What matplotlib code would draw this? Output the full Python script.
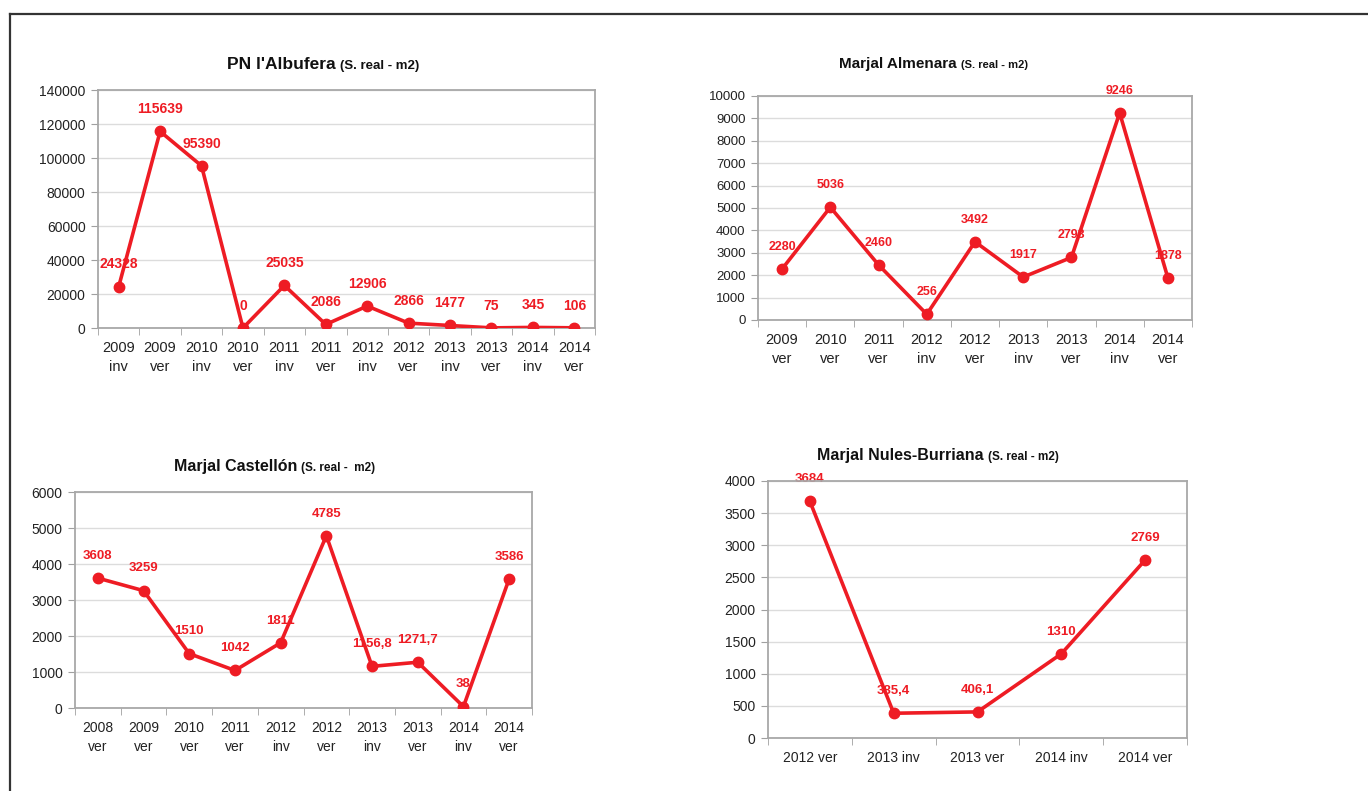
import numpy as np
import matplotlib
matplotlib.use('Agg')
import matplotlib.pyplot as plt
from matplotlib.lines import Line2D

plt.rcParams['font.family'] = ['Liberation Sans', 'DejaVu Sans']

W, H = 1368, 791
RED = '#ee1c24'

# --- data ---
alb_cats = ['2009\ninv', '2009\nver', '2010\ninv', '2010\nver', '2011\ninv', '2011\nver',
            '2012\ninv', '2012\nver', '2013\ninv', '2013\nver', '2014\ninv', '2014\nver']
alb_vals = [24328, 115639, 95390, 0, 25035, 2086, 12906, 2866, 1477, 75, 345, 106]

alm_cats = ['2009\nver', '2010\nver', '2011\nver', '2012\ninv', '2012\nver',
            '2013\ninv', '2013\nver', '2014\ninv', '2014\nver']
alm_vals = [2280, 5036, 2460, 256, 3492, 1917, 2793, 9246, 1878]

cas_cats = ['2008\nver', '2009\nver', '2010\nver', '2011\nver', '2012\ninv',
            '2012\nver', '2013\ninv', '2013\nver', '2014\ninv', '2014\nver']
cas_vals = [3608, 3259, 1510, 1042, 1811, 4785, 1156.8, 1271.7, 38, 3586]

nul_cats = ['2012 ver', '2013 inv', '2013 ver', '2014 inv', '2014 ver']
nul_vals = [3684, 385.4, 406.1, 1310, 2769]


def fmt(v):
    if float(v).is_integer():
        return str(int(v))
    return f'{v}'.replace('.', ',')


def panel(fig, box, cats, vals, ymax, ystep, title, sub, tx, ty, tsize, ssize,
          ytick_fs, xtick_fs, lab_fs):
    l, t, r, b = box
    ax = fig.add_axes([l / W, 1 - b / H, (r - l) / W, (b - t) / H])
    x = np.arange(len(cats))
    ax.plot(x, vals, color=RED, lw=2.6, marker='o', ms=7.5, zorder=3,
            solid_joinstyle='round')
    for xi, v in zip(x, vals):
        ax.annotate(fmt(v), (xi, v), xytext=(0, 16), textcoords='offset points',
                    ha='center', va='center', color=RED, fontsize=lab_fs,
                    fontweight='bold', zorder=2)
    ax.set_xlim(-0.5, len(cats) - 0.5)
    ax.set_ylim(0, ymax)
    ax.set_yticks(np.arange(0, ymax + 1, ystep))
    ax.set_xticks(x)
    ax.set_xticklabels(cats, fontsize=xtick_fs, color='#222222', linespacing=1.5)
    ax.set_xticks(np.arange(-0.5, len(cats), 1), minor=True)
    ax.tick_params(axis='x', which='major', length=0, pad=9)
    ax.tick_params(axis='x', which='minor', length=5, color='#a0a0a0')
    ax.tick_params(axis='y', length=5, color='#a0a0a0', labelsize=ytick_fs,
                   labelcolor='#222222', pad=4)
    ax.grid(axis='y', color='#dcdcdc', lw=1)
    ax.set_axisbelow(True)
    for s in ax.spines.values():
        s.set_color('#a8a8a8')
        s.set_linewidth(1.3)
    fig.text(tx / W, 1 - ty / H, title, ha='right', va='baseline',
             fontsize=tsize, fontweight='bold', color='#111111')
    fig.text((tx + 4) / W, 1 - ty / H, sub, ha='left', va='baseline',
             fontsize=ssize, fontweight='bold', color='#111111')
    return ax


fig = plt.figure(figsize=(W / 100, H / 100), dpi=100)

panel(fig, (98, 90, 595, 328), alb_cats, alb_vals, 140000, 20000,
      "PN l'Albufera", '(S. real - m2)', 336, 69, 12.5, 9.5, 10, 10.5, 10)
panel(fig, (758, 96, 1192, 320), alm_cats, alm_vals, 10000, 1000,
      'Marjal Almenara', '(S. real - m2)', 957, 68, 11, 8, 9.5, 10.5, 9)
panel(fig, (75, 492, 532, 708), cas_cats, cas_vals, 6000, 1000,
      'Marjal Castellón', '(S. real -  m2)', 297, 471, 11.5, 8.5, 10, 10, 9.5)
panel(fig, (768, 481, 1187, 738), nul_cats, nul_vals, 4000, 500,
      'Marjal Nules-Burriana', '(S. real - m2)', 984, 460, 11.5, 8.5, 10, 10, 9.5)

# outer frame (left and top edges only)
fig.add_artist(Line2D([10 / W, 10 / W], [0, 1 - 14 / H], color='#333333', lw=1.6))
fig.add_artist(Line2D([10 / W, 1], [1 - 14 / H, 1 - 14 / H], color='#333333', lw=1.6))

fig.savefig('out.png', dpi=100)
